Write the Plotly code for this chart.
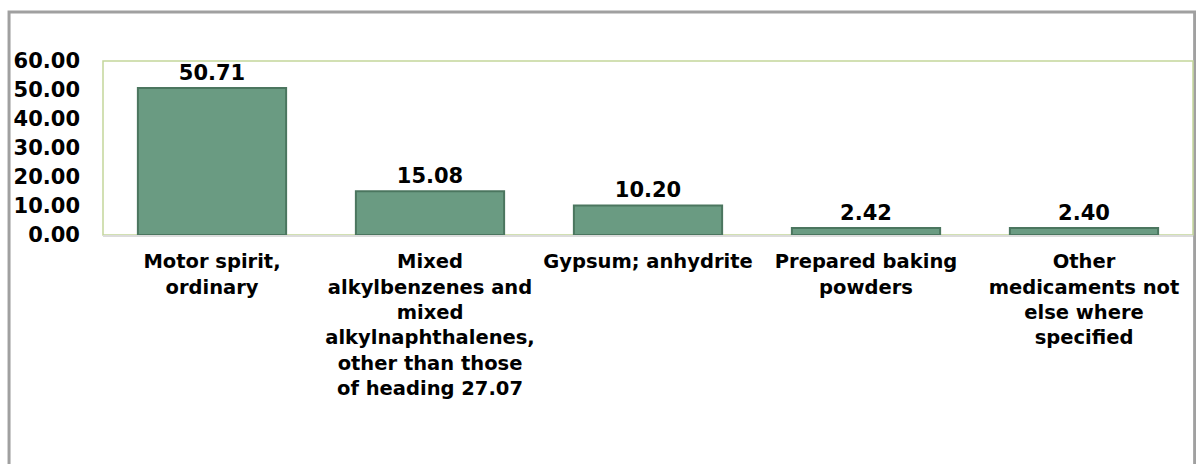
import plotly.graph_objects as go

categories = [
    "Motor spirit,<br>ordinary",
    "Mixed<br>alkylbenzenes and<br>mixed<br>alkylnaphthalenes,<br>other than those<br>of heading 27.07",
    "Gypsum; anhydrite",
    "Prepared baking<br>powders",
    "Other<br>medicaments not<br>else where<br>specified",
]
values = [50.71, 15.08, 10.20, 2.42, 2.40]
tick_vals = [0, 10, 20, 30, 40, 50, 60]
tick_text = ["0.00", "10.00", "20.00", "30.00", "40.00", "50.00", "60.00"]

FONT = "DejaVu Sans"

fig = go.Figure()
fig.add_trace(go.Bar(
    x=categories,
    y=values,
    width=0.68,
    marker=dict(color="#6a9b82", line=dict(color="#4b765f", width=2)),
    text=[f"{v:.2f}" for v in values],
    textposition="outside",
    textfont=dict(family=FONT, size=21, color="black", weight="bold"),
    cliponaxis=False,
))

fig.update_layout(
    width=1196, height=464,
    margin=dict(l=103, r=3, t=61, b=229),
    paper_bgcolor="white",
    plot_bgcolor="white",
    showlegend=False,
    bargap=0.32,
    font=dict(family=FONT, color="black"),
    shapes=[
        dict(type="rect", xref="paper", yref="paper",
             x0=-0.0862, x1=1.0015, y0=-1.5, y1=1.2816,
             line=dict(color="#a0a0a0", width=3), fillcolor="rgba(0,0,0,0)",
             layer="below"),
        dict(type="rect", xref="paper", yref="paper",
             x0=0, x1=1, y0=0, y1=1,
             line=dict(color="#c3d69b", width=1.5), fillcolor="rgba(0,0,0,0)",
             layer="below"),
    ],
)

fig.update_xaxes(
    showgrid=False, zeroline=False,
    showline=True, linecolor="#dcdcdc", linewidth=2,
    ticks="outside", ticklen=8, tickcolor="rgba(0,0,0,0)",
    tickangle=0,
    tickfont=dict(family=FONT, size=19.5, color="black", weight="bold"),
)
fig.update_yaxes(
    range=[0, 60],
    tickvals=tick_vals, ticktext=tick_text,
    showgrid=False, zeroline=False, showline=False,
    ticks="", ticklabelstandoff=22,
    tickfont=dict(family=FONT, size=21, color="black", weight="bold"),
)

fig.write_html(
    "out.html",
    config={"displayModeBar": False},
    post_script="document.body.style.margin='0';document.body.style.overflow='hidden';",
)
